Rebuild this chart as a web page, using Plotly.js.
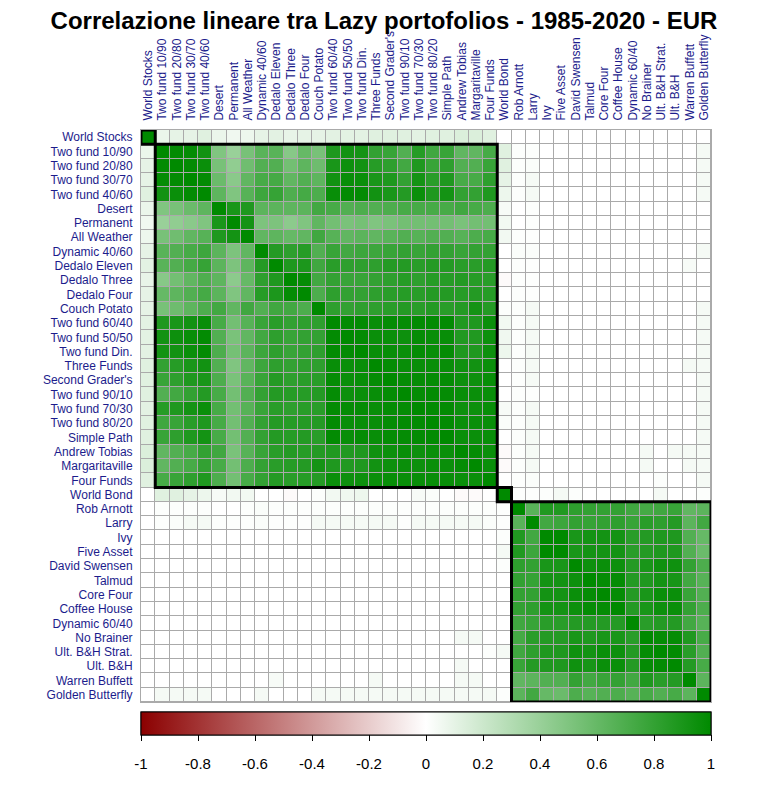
<!DOCTYPE html>
<html>
<head>
<meta charset="utf-8">
<script src="https://cdn.plot.ly/plotly-3.0.1.min.js"></script>
<style>html,body{margin:0;padding:0;background:#fff;}#chart{width:768px;height:796px;}</style>
</head>
<body>
<div id="chart"></div>
<script>
const portfolios = ["World Stocks","Two fund 10/90","Two fund 20/80","Two fund 30/70","Two fund 40/60","Desert","Permanent","All Weather","Dynamic 40/60","Dedalo Eleven","Dedalo Three","Dedalo Four","Couch Potato","Two fund 60/40","Two fund 50/50","Two fund Din.","Three Funds","Second Grader's","Two fund 90/10","Two fund 70/30","Two fund 80/20","Simple Path","Andrew Tobias","Margaritaville","Four Funds","World Bond","Rob Arnott","Larry","Ivy","Five Asset","David Swensen","Talmud","Core Four","Coffee House","Dynamic 60/40","No Brainer","Ult. B&H Strat.","Ult. B&H","Warren Buffett","Golden Butterfly"];

// hierarchical-cluster group sizes (in display order)
const clusterSizes = [1, 24, 1, 14];

// lower triangle of the correlation matrix (row i holds columns 0..i)
const corrLower = [
[1],
[0.08,1],
[0.10,0.99,1],
[0.10,0.98,0.99,1],
[0.12,0.93,0.96,0.99,1],
[0.08,0.50,0.53,0.58,0.63,1],
[0.06,0.40,0.43,0.46,0.50,0.90,1],
[0.07,0.53,0.56,0.62,0.66,0.88,0.92,1],
[0.10,0.65,0.68,0.72,0.76,0.64,0.51,0.62,1],
[0.11,0.65,0.68,0.73,0.79,0.64,0.51,0.63,0.86,1],
[0.09,0.47,0.55,0.62,0.69,0.63,0.45,0.60,0.82,0.88,1],
[0.10,0.60,0.63,0.68,0.73,0.64,0.50,0.62,0.85,0.89,0.98,1],
[0.10,0.53,0.57,0.63,0.70,0.74,0.62,0.75,0.68,0.75,0.74,0.70,1],
[0.11,0.88,0.90,0.93,0.97,0.72,0.55,0.66,0.78,0.84,0.80,0.82,0.82,1],
[0.11,0.93,0.95,0.97,0.99,0.68,0.52,0.62,0.74,0.82,0.78,0.80,0.80,0.99,1],
[0.11,0.92,0.93,0.96,0.99,0.70,0.54,0.64,0.76,0.82,0.78,0.80,0.82,0.99,0.99,1],
[0.12,0.80,0.85,0.90,0.93,0.68,0.50,0.62,0.76,0.82,0.80,0.82,0.82,0.97,0.96,0.97,1],
[0.12,0.78,0.82,0.88,0.90,0.70,0.52,0.65,0.78,0.86,0.82,0.84,0.84,0.98,0.96,0.97,0.98,1],
[0.12,0.68,0.74,0.80,0.86,0.72,0.55,0.68,0.80,0.86,0.85,0.85,0.86,0.98,0.95,0.96,0.97,0.98,1],
[0.11,0.85,0.88,0.92,0.96,0.72,0.55,0.66,0.78,0.84,0.82,0.84,0.84,0.99,0.98,0.98,0.97,0.98,0.98,1],
[0.12,0.75,0.78,0.84,0.88,0.72,0.55,0.68,0.80,0.86,0.85,0.86,0.86,0.99,0.97,0.97,0.97,0.98,0.99,0.99,1],
[0.12,0.78,0.82,0.88,0.92,0.72,0.55,0.68,0.80,0.86,0.85,0.86,0.84,0.99,0.97,0.98,0.97,0.98,0.98,0.99,0.99,1],
[0.14,0.62,0.68,0.72,0.80,0.75,0.52,0.66,0.78,0.84,0.86,0.85,0.86,0.87,0.87,0.88,0.94,0.95,0.97,0.95,0.96,0.96,1],
[0.14,0.62,0.68,0.72,0.80,0.72,0.55,0.70,0.80,0.84,0.85,0.86,0.92,0.88,0.87,0.88,0.93,0.95,0.96,0.95,0.96,0.96,0.98,1],
[0.12,0.72,0.78,0.82,0.88,0.70,0.55,0.72,0.80,0.86,0.84,0.85,0.86,0.96,0.95,0.95,0.96,0.97,0.97,0.97,0.97,0.97,0.96,0.96,1],
[0.00,0.12,0.12,0.10,0.07,0.03,0.05,0.05,0.00,0.00,-0.02,0.00,0.01,0.05,0.06,0.07,0.00,0.00,0.00,0.03,0.02,0.00,-0.02,-0.02,0.00,1],
[0.00,0.01,0.01,0.01,0.01,0.00,0.00,0.01,0.02,0.01,0.01,0.01,0.01,0.01,0.01,0.01,0.01,0.01,0.01,0.01,0.01,0.01,0.01,0.01,0.01,0.01,1],
[0.00,0.01,0.02,0.04,0.04,0.01,0.01,0.01,0.02,0.01,0.01,0.01,0.04,0.04,0.04,0.04,0.04,0.04,0.01,0.04,0.04,0.04,0.04,0.04,0.02,0.01,0.65,1],
[0.00,0.00,0.00,0.00,0.00,0.00,0.00,0.00,0.00,0.00,0.00,0.00,0.00,0.00,0.00,0.00,0.00,0.00,0.00,0.00,0.00,0.00,0.00,0.00,0.00,0.01,0.87,0.74,1],
[0.00,0.00,0.00,0.00,0.00,0.00,0.00,0.00,0.00,0.00,0.00,0.00,0.00,0.00,0.00,0.00,0.00,0.00,0.00,0.00,0.00,0.00,0.00,0.00,0.00,0.04,0.87,0.76,1.00,1],
[0.00,0.00,0.00,0.00,0.00,0.00,0.00,0.00,0.00,0.00,0.00,0.00,0.00,0.00,0.00,0.00,0.00,0.00,0.00,0.00,0.00,0.00,0.00,0.00,0.00,0.01,0.82,0.80,0.90,0.90,1],
[0.00,0.00,0.00,0.00,0.00,0.00,0.00,0.00,0.00,0.00,0.00,0.00,0.00,0.00,0.00,0.00,0.00,0.00,0.00,0.00,0.00,0.00,0.00,0.00,0.00,0.00,0.80,0.79,0.92,0.92,0.95,1],
[0.00,0.00,0.00,0.00,0.00,0.00,0.00,0.00,0.00,0.00,0.00,0.00,0.00,0.00,0.00,0.00,0.00,0.00,0.00,0.00,0.00,0.00,0.00,0.00,0.00,0.00,0.80,0.80,0.92,0.92,0.96,0.98,1],
[0.00,0.00,0.00,0.00,0.00,0.00,0.00,0.00,0.00,0.00,0.00,0.00,0.00,0.00,0.00,0.00,0.00,0.00,0.00,0.00,0.00,0.00,0.00,0.00,0.00,0.00,0.80,0.82,0.92,0.92,0.95,0.98,0.98,1],
[0.00,0.00,0.00,0.00,0.00,0.00,0.00,0.00,0.00,0.00,0.00,0.00,0.00,0.00,0.00,0.00,0.00,0.00,0.00,0.00,0.00,0.00,0.00,0.00,0.00,0.00,0.75,0.78,0.84,0.84,0.86,0.86,0.86,0.86,1],
[0.00,0.00,0.00,0.00,0.00,0.00,0.00,0.00,0.00,0.00,0.00,0.00,0.00,0.00,0.00,0.00,0.00,0.00,0.00,0.00,0.00,0.00,0.04,0.04,0.00,0.00,0.73,0.84,0.86,0.86,0.90,0.88,0.90,0.90,0.84,1],
[0.00,0.00,0.00,0.00,0.00,0.00,0.00,0.00,0.00,0.00,0.00,0.00,0.00,0.00,0.00,0.00,0.00,0.00,0.00,0.00,0.00,0.00,0.00,0.00,0.01,0.04,0.75,0.82,0.88,0.88,0.94,0.92,0.96,0.95,0.86,0.98,1],
[0.00,0.00,0.00,0.00,0.00,0.00,0.00,0.00,0.00,0.00,0.00,0.00,0.00,0.00,0.00,0.00,0.00,0.00,0.00,0.00,0.00,0.00,0.04,0.00,0.00,0.00,0.78,0.86,0.88,0.88,0.94,0.91,0.96,0.96,0.86,0.98,0.99,1],
[0.00,0.00,0.00,0.00,0.00,0.00,0.00,0.00,0.00,0.03,0.00,0.00,0.00,0.00,0.00,0.00,0.04,0.00,0.00,0.00,0.00,0.00,0.04,0.04,0.00,0.00,0.62,0.64,0.68,0.68,0.80,0.74,0.78,0.80,0.74,0.88,0.84,0.86,1],
[0.00,0.04,0.04,0.04,0.04,0.00,0.00,0.00,0.04,0.00,0.00,0.00,0.04,0.04,0.04,0.04,0.04,0.04,0.04,0.04,0.04,0.04,0.04,0.04,0.04,0.01,0.64,0.74,0.60,0.58,0.70,0.66,0.68,0.70,0.66,0.72,0.68,0.72,0.64,1]
];

const colorbarTicks = [-1,-0.8,-0.6,-0.4,-0.2,0,0.2,0.4,0.6,0.8,1];

// build the symmetric matrix
const n = portfolios.length;
const idx = portfolios.map((_, i) => i);
const z = idx.map(i => idx.map(j => (i >= j ? corrLower[i][j] : corrLower[j][i])));

// cluster rectangles from group sizes
const shapes = [];
let start = 0;
clusterSizes.forEach(s => {
  shapes.push({type: 'rect', xref: 'x', yref: 'y',
    x0: start - 0.5, x1: start + s - 0.5, y0: start - 0.5, y1: start + s - 0.5,
    line: {color: '#000', width: 3}, fillcolor: 'rgba(0,0,0,0)', layer: 'above'});
  start += s;
});

const plotH = 572;
const FONT = 'Liberation Sans, Arial, sans-serif';
const cscale = [[0, '#8B0000'], [0.5, '#FFFFFF'], [1, '#008A00']];
const cbBase = {
  orientation: 'h', x: 0.5, xanchor: 'center', xref: 'paper',
  y: -10 / plotH, yanchor: 'top', yref: 'paper',
  thickness: 23, lenmode: 'pixels', len: 570, xpad: 0, ypad: 0,
  outlinewidth: 1, outlinecolor: '#000',
  tickmode: 'array', tickvals: colorbarTicks, ticktext: colorbarTicks.map(String),
  tickfont: {family: FONT, size: 15, color: '#000'}
};

// under-layer heatmap: its colorbar supplies the short visible tick marks
const tickTrace = {
  type: 'heatmap', x: idx, y: idx, z: z, zmin: -1, zmax: 1,
  colorscale: cscale, xgap: 1, ygap: 1, hoverinfo: 'skip',
  colorbar: Object.assign({}, cbBase, {ticks: 'outside', ticklen: 6, tickcolor: '#000', tickwidth: 1, showticklabels: false})
};

const trace = {
  type: 'heatmap', x: idx, y: idx, z: z,
  zmin: -1, zmax: 1,
  colorscale: cscale,
  xgap: 1, ygap: 1, hoverinfo: 'skip',
  colorbar: Object.assign({}, cbBase, {ticks: 'outside', ticklen: 16, tickcolor: 'rgba(0,0,0,0)', tickwidth: 1})
};

const layout = {
  width: 768, height: 796,
  margin: {l: 141, r: 57, t: 130, b: 94, pad: 0},
  paper_bgcolor: '#fff', plot_bgcolor: '#aaaaaa',
  title: {text: 'Correlazione lineare tra Lazy portofolios - 1985-2020 - EUR',
    x: 0.5, xref: 'container', xanchor: 'center',
    y: 1 - 21 / 796, yref: 'container', yanchor: 'middle',
    font: {family: FONT, size: 24, color: '#000', weight: 'bold'}},
  xaxis: {side: 'top', range: [-0.5, n - 0.5], tickmode: 'array', tickvals: idx, ticktext: portfolios,
    tickangle: -90, ticks: 'outside', ticklen: 6, tickcolor: 'rgba(0,0,0,0)',
    showgrid: false, zeroline: false, showline: true, mirror: true, linecolor: '#aaaaaa', linewidth: 1,
    tickfont: {family: FONT, size: 12, color: '#1c1c8c'}, fixedrange: true},
  yaxis: {range: [n - 0.5, -0.5], tickmode: 'array', tickvals: idx, ticktext: portfolios,
    ticks: 'outside', ticklen: 5, tickcolor: 'rgba(0,0,0,0)',
    showgrid: false, zeroline: false, showline: true, mirror: true, linecolor: '#aaaaaa', linewidth: 1,
    tickfont: {family: FONT, size: 12, color: '#1c1c8c'}, fixedrange: true},
  shapes: shapes
};

Plotly.newPlot('chart', [tickTrace, trace], layout, {displayModeBar: false, staticPlot: true});
</script>
</body>
</html>
